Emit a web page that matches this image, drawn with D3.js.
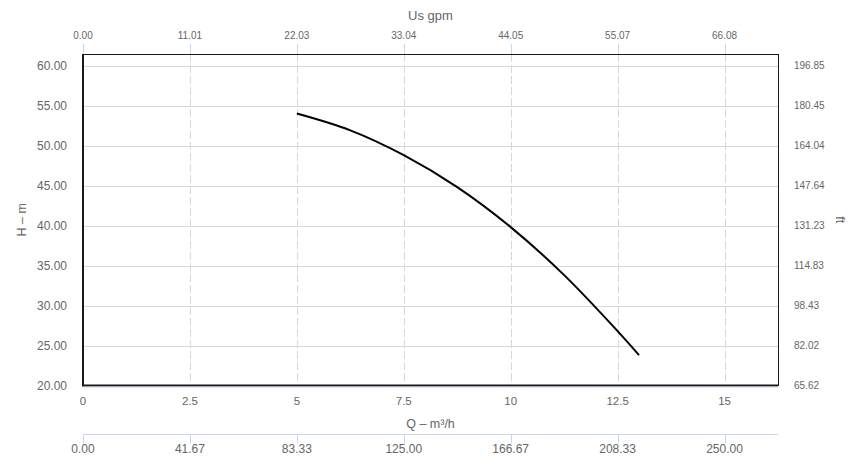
<!DOCTYPE html>
<html><head><meta charset="utf-8">
<script src="https://cdn.jsdelivr.net/npm/d3@7/dist/d3.min.js"></script>
<style>
body{margin:0;background:#fff;}
svg{display:block;font-family:"Liberation Sans",Arial,sans-serif;}
</style></head>
<body><svg id="c" width="864" height="465"></svg>
<script>
// Data
const flowQ = [5, 6.25, 7.5, 8.75, 10, 11.25, 12.5, 13];          // m³/h
const headH = [54.0, 51.9, 48.8, 44.8, 39.8, 33.8, 26.8, 23.8];    // m
const qTicks = [0, 2.5, 5, 7.5, 10, 12.5, 15];
const qTickLabels = ["0", "2.5", "5", "7.5", "10", "12.5", "15"];
const gpmTickLabels = ["0.00", "11.01", "22.03", "33.04", "44.05", "55.07", "66.08"];
const lminTickLabels = ["0.00", "41.67", "83.33", "125.00", "166.67", "208.33", "250.00"];
const hTicks = [20, 25, 30, 35, 40, 45, 50, 55, 60];
const hTickLabels = ["20.00", "25.00", "30.00", "35.00", "40.00", "45.00", "50.00", "55.00", "60.00"];
const ftTickLabels = ["65.62", "82.02", "98.43", "114.83", "131.23", "147.64", "164.04", "180.45", "196.85"];

const L = 83, R = 778, T = 54, B = 385.5;
const x = d3.scaleLinear().domain([0, 16.25]).range([L, R]);
const y = d3.scaleLinear().domain([20, 61.44]).range([B, T]);
const svg = d3.select("#c");
const labelColor = "#666666";
const axisBlue = "#ccd6eb";

// horizontal grid
svg.append("g").selectAll("line").data(hTicks).join("line")
  .attr("x1", L).attr("x2", R)
  .attr("y1", d => Math.round(y(d)) + 0.5).attr("y2", d => Math.round(y(d)) + 0.5)
  .attr("stroke", "#d8d8d8").attr("stroke-width", 1);
// vertical dashed grid
svg.append("g").selectAll("line").data(qTicks.slice(1)).join("line")
  .attr("x1", d => Math.round(x(d)) + 0.5).attr("x2", d => Math.round(x(d)) + 0.5)
  .attr("y1", T).attr("y2", B)
  .attr("stroke", "#d8d8d8").attr("stroke-width", 1).attr("stroke-dasharray", "8,3");

// plot border
svg.append("rect").attr("x", L + 0.5).attr("y", T + 0.5).attr("width", R - L).attr("height", B - T - 0.5)
  .attr("fill", "none").attr("stroke", "#1a1a1a").attr("stroke-width", 1);
// thick left and bottom axis lines
svg.append("line").attr("x1", L).attr("x2", L).attr("y1", T).attr("y2", B + 1)
  .attr("stroke", "#1a1a1a").attr("stroke-width", 2);
svg.append("line").attr("x1", L).attr("x2", R).attr("y1", B).attr("y2", B)
  .attr("stroke", "#1a1a1a").attr("stroke-width", 2);
// light blue line under bottom axis
svg.append("line").attr("x1", L).attr("x2", R).attr("y1", B + 1.5).attr("y2", B + 1.5)
  .attr("stroke", axisBlue).attr("stroke-width", 1);

// curve
const pts = flowQ.map((q, i) => [q, headH[i]]);
svg.append("path").datum(pts)
  .attr("d", d3.line().x(d => x(d[0])).y(d => y(d[1])).curve(d3.curveCatmullRom.alpha(0.5)))
  .attr("fill", "none").attr("stroke", "#000").attr("stroke-width", 2);

// top axis (US gpm)
const topAxis = svg.append("g");
topAxis.selectAll("line").data(qTicks).join("line")
  .attr("x1", d => Math.round(x(d)) + 0.5).attr("x2", d => Math.round(x(d)) + 0.5)
  .attr("y1", T - 10).attr("y2", T).attr("stroke", axisBlue);
topAxis.selectAll("text").data(qTicks).join("text")
  .attr("x", d => x(d)).attr("y", 39).attr("text-anchor", "middle")
  .attr("font-size", 10).attr("fill", labelColor).text((d, i) => gpmTickLabels[i]);
svg.append("text").attr("x", (L + R) / 2).attr("y", 20).attr("text-anchor", "middle")
  .attr("font-size", 13).attr("fill", labelColor).text("Us gpm");

// bottom axis (m³/h)
svg.append("g").selectAll("text").data(qTicks).join("text")
  .attr("x", d => x(d)).attr("y", 405).attr("text-anchor", "middle")
  .attr("font-size", 11.5).attr("fill", labelColor).text((d, i) => qTickLabels[i]);
svg.append("text").attr("x", (L + R) / 2).attr("y", 428).attr("text-anchor", "middle")
  .attr("font-size", 12.5).attr("fill", labelColor).text("Q – m³/h");

// second bottom axis (l/min)
const b2y = 434.5;
svg.append("line").attr("x1", L).attr("x2", R).attr("y1", b2y).attr("y2", b2y).attr("stroke", axisBlue);
const b2 = svg.append("g");
b2.selectAll("line").data(qTicks).join("line")
  .attr("x1", d => Math.round(x(d)) + 0.5).attr("x2", d => Math.round(x(d)) + 0.5)
  .attr("y1", b2y).attr("y2", b2y + 9).attr("stroke", axisBlue);
b2.selectAll("text").data(qTicks).join("text")
  .attr("x", d => x(d)).attr("y", 453).attr("text-anchor", "middle")
  .attr("font-size", 12).attr("fill", labelColor).text((d, i) => lminTickLabels[i]);

// left axis (m)
svg.append("g").selectAll("text").data(hTicks).join("text")
  .attr("x", 67).attr("y", d => y(d) + 4).attr("text-anchor", "end")
  .attr("font-size", 12).attr("fill", labelColor).text((d, i) => hTickLabels[i]);
svg.append("text").attr("transform", `translate(26,${(T + B) / 2}) rotate(-90)`)
  .attr("text-anchor", "middle").attr("font-size", 12.5).attr("fill", labelColor).text("H – m");

// right axis (ft)
svg.append("g").selectAll("text").data(hTicks).join("text")
  .attr("x", 794).attr("y", d => y(d) + 3.5).attr("text-anchor", "start")
  .attr("font-size", 10).attr("fill", labelColor).text((d, i) => ftTickLabels[i]);
svg.append("text").attr("transform", `translate(836,${(T + B) / 2}) rotate(90)`)
  .attr("text-anchor", "middle").attr("font-size", 12.5).attr("fill", labelColor).text("ft");
</script></body></html>
